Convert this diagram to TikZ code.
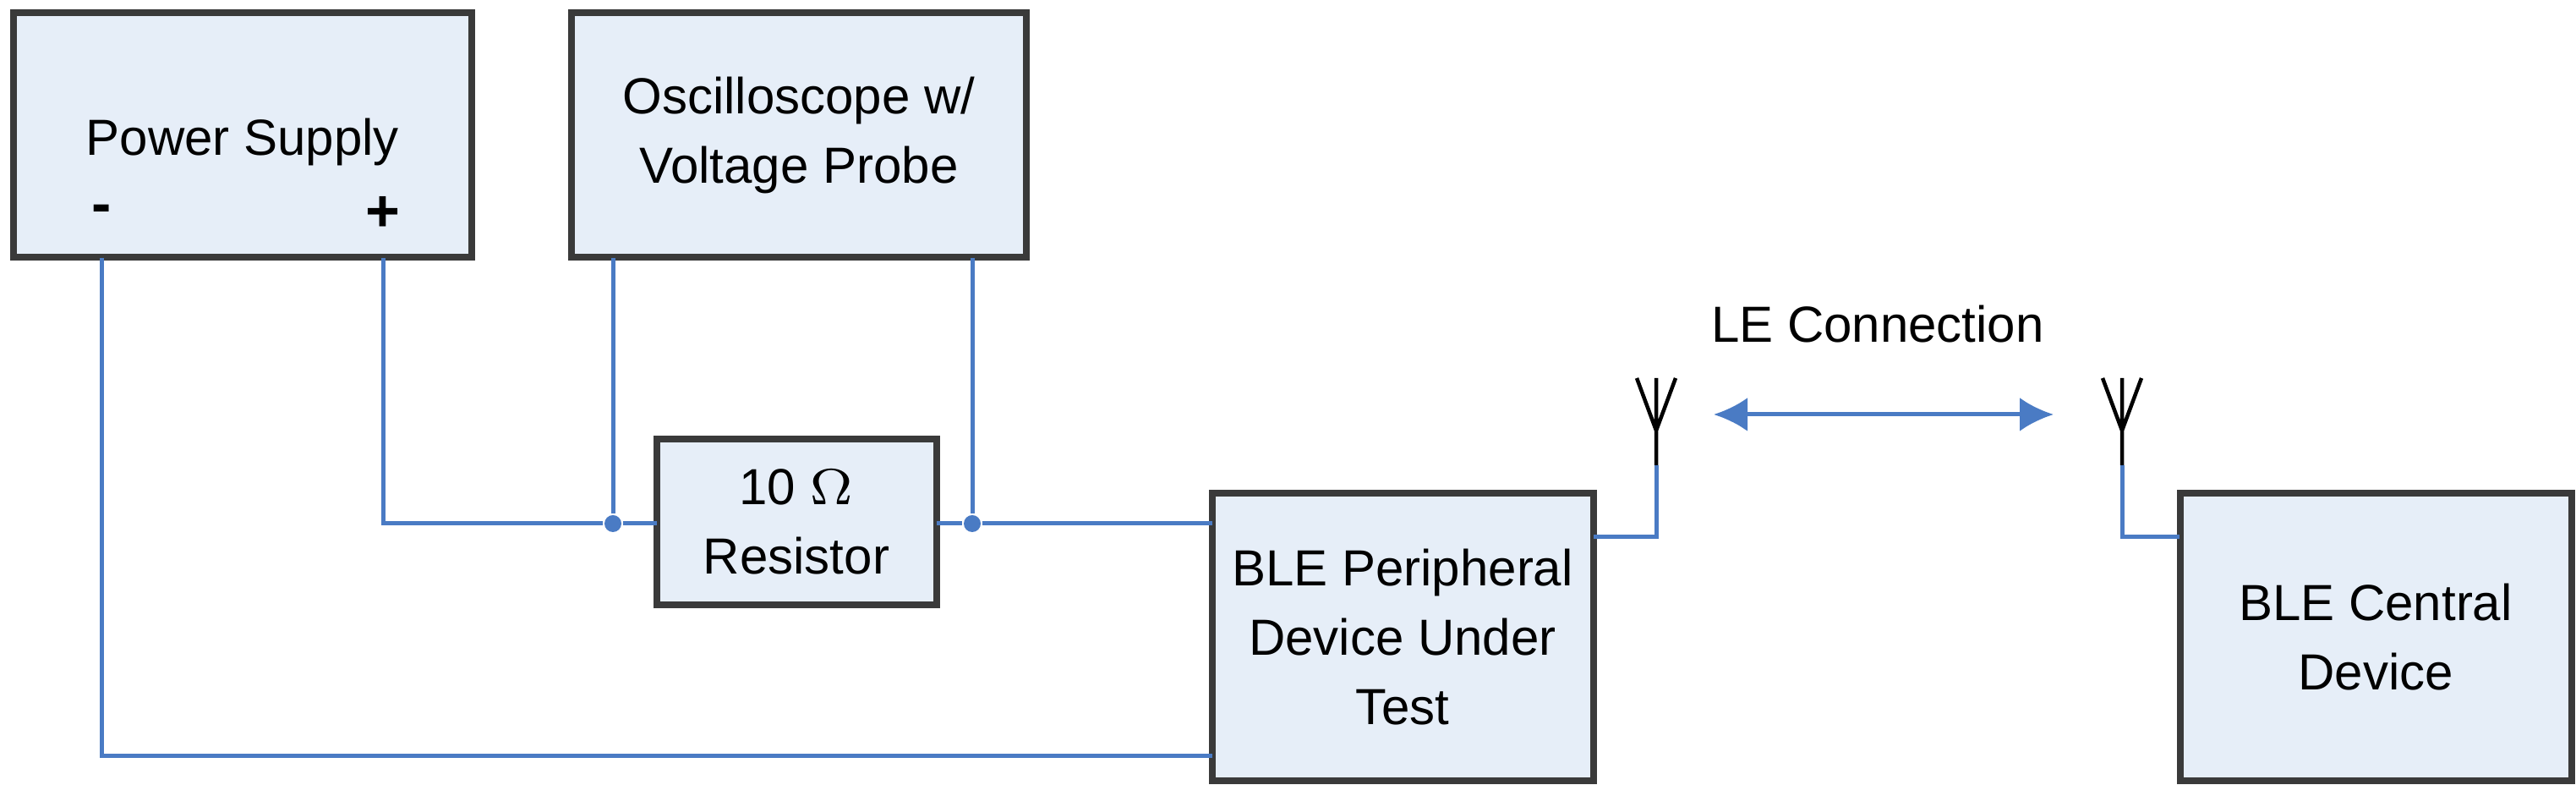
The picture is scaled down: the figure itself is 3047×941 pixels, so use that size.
\documentclass[tikz,border=0pt]{standalone}
\usepackage{fontspec}
\setmainfont{Liberation Sans}
\usetikzlibrary{arrows.meta}
\definecolor{boxfill}{HTML}{E6EEF8}
\definecolor{boxline}{HTML}{3A3A3A}
\definecolor{wire}{HTML}{4A7BC4}
\begin{document}
\begin{tikzpicture}[x=0.1pt,y=-0.1pt,
  box/.style={draw=boxline,line width=0.8pt,fill=boxfill,inner sep=0pt,align=center,font=\fontsize{6}{8.2}\selectfont},
  lbl/.style={font=\fontsize{6}{8.2}\selectfont,inner sep=0pt},
  w/.style={draw=wire,line width=0.5pt},
  ant/.style={draw=black,line width=0.45pt},
  dot/.style={circle,fill=wire,inner sep=0pt,minimum size=2pt}]
\useasboundingbox (0,0) rectangle (3047,941);
\node[box,minimum width=54.2pt,minimum height=28.9pt] (ps) at (287,160) {};
\node[lbl] (pst) at (287,168) {Power Supply};
\node[lbl,font=\fontsize{7}{8}\selectfont\bfseries] (minus) at (120,253) {-};
\node[lbl,font=\fontsize{7}{8}\selectfont\bfseries] (plus) at (453,253) {+};
\node[box,minimum width=53.8pt,minimum height=28.9pt] (sc) at (945,160) {Oscilloscope w/\\Voltage Probe};
\node[box,minimum width=33.1pt,minimum height=19.6pt] (rs) at (942,617) {10 $\Omega$\\Resistor};
\node[box,minimum width=45.1pt,minimum height=34pt] (pe) at (1659,753) {BLE Peripheral\\Device Under\\Test};
\node[box,minimum width=46.3pt,minimum height=34pt] (ce) at (2810,753) {BLE Central\\Device};
\node[dot] (d1) at (725,619) {};
\node[dot] (d2) at (1150,619) {};
\coordinate (pm) at (120,305);
\coordinate (pp) at (453,305);
\coordinate (gnd) at (1434,894);
\coordinate (s1) at (725,305);
\coordinate (s2) at (1150,305);
\coordinate (r1) at (777,619);
\coordinate (r2) at (1108,619);
\coordinate (p1) at (1434,619);
\coordinate (pa) at (1885,635);
\coordinate (ca) at (2578,635);
\coordinate (a1) at (1959,550);
\coordinate (a1j) at (1959,509);
\coordinate (a1t) at (1959,447);
\coordinate (a1l) at (1936,447);
\coordinate (a1r) at (1982,447);
\coordinate (a2) at (2510,550);
\coordinate (a2j) at (2510,509);
\coordinate (a2t) at (2510,447);
\coordinate (a2l) at (2487,447);
\coordinate (a2r) at (2533,447);
\coordinate (al) at (2027,490);
\coordinate (ar) at (2429,490);
\node[lbl] (le) at (2221,383) {LE Connection};
% wires
\draw[w] (pm) |- (gnd);
\draw[w] (pp) |- (d1) -- (r1);
\draw[w] (s1) -- (d1);
\draw[w] (s2) -- (d2);
\draw[w] (r2) -- (d2) -- (p1);
\draw[w] (pa) -| (a1);
\draw[w] (ca) -| (a2);
% antennas
\draw[ant] (a1) -- (a1t) (a1l) -- (a1j) -- (a1r);
\draw[ant] (a2) -- (a2t) (a2l) -- (a2j) -- (a2r);
\draw[w,{Latex[length=4pt,width=4pt]}-{Latex[length=4pt,width=4pt]}] (al) -- (ar);
\end{tikzpicture}
\end{document}
